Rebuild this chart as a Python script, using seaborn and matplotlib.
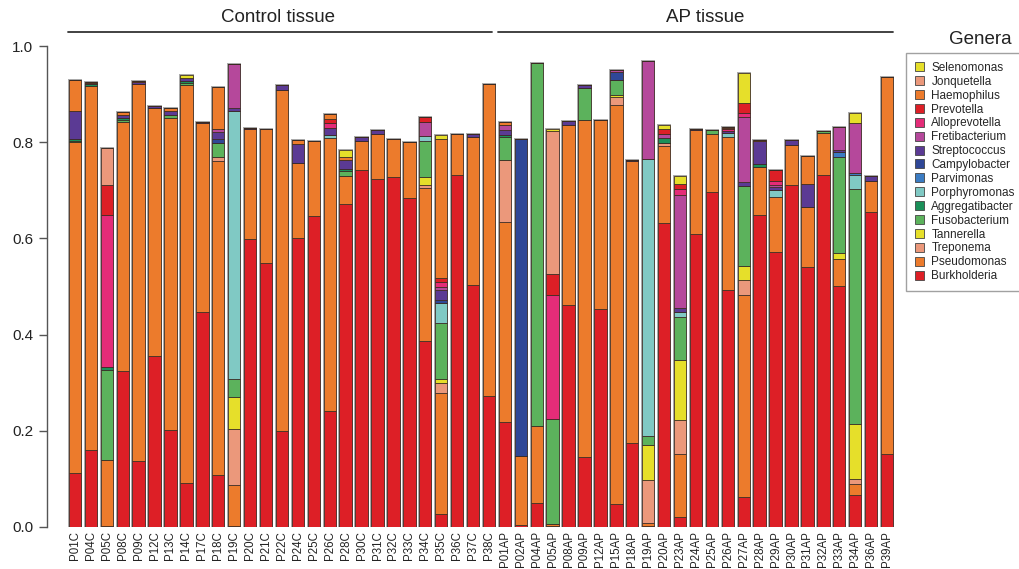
import numpy as np
import pandas as pd
import matplotlib
matplotlib.use("Agg")
import matplotlib.pyplot as plt
from matplotlib.patches import Patch
from matplotlib.ticker import FormatStrFormatter
from matplotlib.transforms import blended_transform_factory
import seaborn as sns

# ---------------------------------------------------------------- samples
control_samples = ["P01C", "P04C", "P05C", "P08C", "P09C", "P12C", "P13C", "P14C",
                   "P17C", "P18C", "P19C", "P20C", "P21C", "P22C", "P24C", "P25C",
                   "P26C", "P28C", "P30C", "P31C", "P32C", "P33C", "P34C", "P35C",
                   "P36C", "P37C", "P38C"]
ap_samples = ["P01AP", "P02AP", "P04AP", "P05AP", "P08AP", "P09AP", "P12AP", "P15AP",
              "P18AP", "P19AP", "P20AP", "P23AP", "P24AP", "P25AP", "P26AP", "P27AP",
              "P28AP", "P29AP", "P30AP", "P31AP", "P32AP", "P33AP", "P34AP", "P36AP",
              "P39AP"]
samples = control_samples + ap_samples

# ------------------------------------------- relative abundance per genus
# (27 control samples, then 25 AP samples)
burkholderia = [.113, .160, .003, .325, .137, .355, .202, .092, .446, .108, .002, .599, .549, .200,
                .601, .647, .242, .671, .743, .723, .728, .684, .387, .027, .732, .504, .272] + \
               [.218, .005, .049, .002, .461, .146, .454, .047, .175, .002, .633, .020, .609,
                .697, .492, .063, .648, .571, .712, .540, .731, .502, .066, .655, .151]
pseudomonas = [.687, .757, .136, .517, .785, .516, .648, .826, .394, .652, .085, .228, .278, .708,
               .156, .156, .566, .059, .060, .095, .078, .117, .317, .252, .086, .307, .648] + \
              [.417, .142, .162, .005, .375, .700, .393, .830, .585, .007, .159, .132, .216,
               .121, .318, .419, .100, .116, .083, .126, .089, .055, .024, .064, .785]
treponema = [0, 0, 0, 0, 0, 0, 0, 0, 0, .009, .117, 0, 0, 0,
             0, 0, 0, 0, 0, 0, 0, 0, .007, .021, 0, 0, 0] + \
            [.128, 0, 0, 0, 0, 0, 0, .017, 0, .089, .006, .070, 0,
             0, 0, .032, 0, 0, 0, 0, 0, 0, .009, 0, 0]
tannerella = [0, 0, 0, 0, 0, 0, 0, 0, 0, 0, .066, 0, 0, 0,
              0, 0, 0, 0, 0, 0, 0, 0, .016, .007, 0, 0, 0] + \
             [0, 0, 0, 0, 0, 0, 0, .004, 0, .072, 0, .125, 0,
              0, 0, .029, 0, 0, 0, 0, 0, .013, .115, 0, 0]
fusobacterium = [.003, 0, .188, .004, 0, 0, .007, .006, 0, .030, .038, 0, 0, 0,
                 0, 0, 0, .010, 0, 0, 0, 0, .075, .118, 0, 0, 0] + \
                [.047, 0, .753, .217, 0, .066, 0, .031, 0, .019, 0, .090, 0,
                 .007, 0, .166, 0, 0, 0, 0, .004, .200, .488, 0, 0]
aggregatibacter = [.003, .004, .006, .004, 0, 0, 0, .003, 0, 0, 0, 0, 0, 0,
                   0, 0, 0, .005, 0, 0, 0, 0, 0, 0, 0, 0, 0] + \
                  [.004, 0, 0, 0, 0, 0, 0, 0, 0, 0, .010, 0, 0,
                   0, 0, 0, .007, 0, 0, 0, 0, 0, 0, 0, 0]
porphyromonas = [0, 0, 0, 0, 0, 0, 0, 0, 0, 0, .556, 0, 0, 0,
                 0, 0, .006, 0, 0, 0, 0, 0, .010, .040, 0, 0, 0] + \
                [0, 0, 0, 0, 0, 0, 0, 0, 0, .576, 0, .011, 0,
                 0, .010, 0, 0, .013, 0, 0, 0, 0, .029, 0, 0]
parvimonas = [0, 0, 0, 0, 0, 0, 0, 0, 0, 0, 0, 0, 0, 0,
              0, 0, 0, 0, 0, 0, 0, 0, 0, 0, 0, 0, 0] + \
             [0, 0, 0, 0, 0, 0, 0, 0, 0, 0, 0, 0, 0,
              0, 0, 0, 0, 0, 0, 0, 0, .010, .006, 0, 0]
campylobacter = [0, 0, 0, 0, 0, 0, 0, 0, 0, .007, 0, 0, 0, 0,
                 0, 0, 0, 0, 0, 0, 0, 0, 0, .006, 0, 0, 0] + \
                [0, .660, 0, 0, 0, 0, 0, .016, 0, 0, 0, 0, 0,
                 0, 0, 0, 0, 0, 0, 0, 0, 0, 0, 0, 0]
streptococcus = [.058, .003, 0, .006, .003, .004, .007, .006, .003, .015, .007, .003, 0, .010,
                 .039, 0, .015, .018, .007, .007, 0, 0, 0, .021, 0, .007, 0] + \
                [.011, 0, 0, 0, .008, .006, 0, 0, .003, 0, 0, .007, .002,
                 0, .003, .009, .047, .006, .010, .048, 0, .003, 0, .011, 0]
fretibacterium = [0, 0, 0, 0, 0, 0, 0, 0, 0, .006, .092, 0, 0, 0,
                  0, 0, 0, 0, 0, 0, 0, 0, .031, .006, 0, 0, 0] + \
                 [.011, 0, 0, 0, 0, 0, 0, .006, 0, .204, .010, .235, 0,
                  0, 0, .134, 0, .005, 0, 0, 0, .048, .103, 0, 0]
alloprevotella = [0, 0, .316, 0, 0, 0, 0, 0, 0, 0, 0, 0, 0, 0,
                  0, 0, .011, 0, 0, 0, 0, 0, 0, .011, 0, 0, 0] + \
                 [0, 0, 0, .258, 0, 0, 0, 0, 0, 0, 0, .012, 0,
                  0, .004, .008, 0, .009, 0, 0, 0, 0, 0, 0, 0]
prevotella = [0, 0, .061, 0, 0, 0, 0, 0, 0, 0, 0, 0, 0, 0,
              0, 0, .008, 0, 0, 0, 0, 0, .010, .009, 0, 0, 0] + \
             [0, 0, 0, .045, 0, 0, 0, 0, 0, 0, .009, .011, 0,
              0, .002, .021, 0, .023, 0, 0, 0, 0, 0, 0, 0]
haemophilus = [.066, .002, 0, .006, .003, 0, .008, 0, 0, .088, 0, 0, 0, 0,
               .009, 0, .011, .007, 0, 0, 0, 0, 0, .288, 0, 0, 0] + \
              [.005, 0, 0, 0, 0, 0, 0, 0, 0, 0, 0, 0, 0,
               0, .002, 0, .003, 0, 0, .058, 0, 0, 0, 0, 0]
jonquetella = [0, 0, .077, 0, 0, 0, 0, 0, 0, 0, 0, 0, 0, 0,
               0, 0, 0, 0, 0, 0, 0, 0, 0, 0, 0, 0, 0] + \
              [0, 0, 0, .297, 0, 0, 0, 0, 0, 0, 0, 0, 0,
               0, 0, 0, 0, 0, 0, 0, 0, 0, 0, 0, 0]
selenomonas = [0, 0, 0, 0, 0, 0, 0, .007, 0, 0, 0, 0, 0, 0,
               0, 0, 0, .014, 0, 0, 0, 0, 0, .009, 0, 0, 0] + \
              [0, 0, 0, .003, 0, 0, 0, 0, 0, 0, .009, .017, 0,
               0, 0, .062, 0, 0, 0, 0, 0, 0, .021, 0, 0]

# stacking order, bottom to top
genera = ["Burkholderia", "Pseudomonas", "Treponema", "Tannerella", "Fusobacterium",
          "Aggregatibacter", "Porphyromonas", "Parvimonas", "Campylobacter",
          "Streptococcus", "Fretibacterium", "Alloprevotella", "Prevotella",
          "Haemophilus", "Jonquetella", "Selenomonas"]
series = [burkholderia, pseudomonas, treponema, tannerella, fusobacterium,
          aggregatibacter, porphyromonas, parvimonas, campylobacter,
          streptococcus, fretibacterium, alloprevotella, prevotella,
          haemophilus, jonquetella, selenomonas]
colors = ["#dd1f26", "#ec7b2c", "#eb987b", "#e6df2a", "#5cb25c",
          "#1b9059", "#80c9c4", "#3b7cc3", "#2f4797",
          "#5b3a94", "#b5489b", "#e42c78", "#dd1f26",
          "#ec7b2c", "#eb987b", "#e6df2a"]

# ---------------------------------------------------------------- figure
sns.set_theme(style="white")
plt.rcParams["font.family"] = ["Liberation Sans", "DejaVu Sans"]

W, H = 1019, 569
fig = plt.figure(figsize=(W / 100, H / 100), dpi=100)
ax = fig.add_axes([67 / W, 42 / H, 828 / W, 481 / H])

bar_w = 0.78
totals = np.sum(np.array(series), axis=0)

# soft grey outline around every full bar
sns.barplot(x=samples, y=totals, order=samples, color="white", edgecolor="#a8a8a8",
            linewidth=1.4, width=bar_w, saturation=1, errorbar=None, ax=ax)

bottom = np.zeros(len(samples))
for name, vals, col in zip(genera, series, colors):
    df = pd.DataFrame({"sample": samples, "value": vals})
    sns.barplot(data=df, x="sample", y="value", order=samples, bottom=bottom,
                color=col, edgecolor="#3a2a22", linewidth=0.55, width=bar_w,
                saturation=1, errorbar=None, ax=ax)
    bottom = bottom + np.array(vals)

ax.set_xlim(-0.5, len(samples) - 0.5)
ax.set_ylim(0, 1.0)
ax.set_xlabel("")
ax.set_ylabel("")
ax.set_yticks(np.arange(0, 1.01, 0.2))
ax.yaxis.set_major_formatter(FormatStrFormatter("%.1f"))
ax.tick_params(axis="y", left=True, length=6, width=1, color="#555555",
               labelsize=11, pad=4, labelcolor="#222222")
ax.tick_params(axis="x", length=0, labelsize=8.3, pad=3, labelrotation=90,
               labelcolor="#222222")
for s in ("top", "right", "bottom"):
    ax.spines[s].set_visible(False)
ax.spines["left"].set_position(("outward", 14.4))
ax.spines["left"].set_bounds(0, 1.0)
ax.spines["left"].set_color("#555555")
ax.spines["left"].set_linewidth(1)

# tissue group brackets above the bars
tr = blended_transform_factory(ax.transData, fig.transFigure)
y_line = 1 - 32 / H
ax.plot([-0.44, 26.2], [y_line, y_line], color="#333333", lw=1.3,
        transform=tr, clip_on=False)
ax.plot([26.57, 51.38], [y_line, y_line], color="#333333", lw=1.3,
        transform=tr, clip_on=False)
ax.text(12.75, 1 - 17 / H, "Control tissue", transform=tr, ha="center", va="center",
        fontsize=13.5, color="#222222")
ax.text(39.6, 1 - 17 / H, "AP tissue", transform=tr, ha="center", va="center",
        fontsize=13.5, color="#222222")

# legend, top of the stack first
handles = [Patch(facecolor=c, edgecolor="#444444", linewidth=0.6, label=g)
           for g, c in zip(genera[::-1], colors[::-1])]
leg = fig.legend(handles=handles, loc="upper left",
                 bbox_to_anchor=(906 / W, 1 - 53 / H), borderaxespad=0,
                 fontsize=8.5, frameon=True, fancybox=False, edgecolor="#8a8a8a",
                 handlelength=0.8, handleheight=0.8, handletextpad=0.6,
                 labelspacing=0.16, borderpad=0.75)
leg.get_frame().set_linewidth(1.0)
fig.text(980 / W, 1 - 40 / H, "Genera", ha="center", va="center",
         fontsize=13.5, color="#222222")

fig.savefig("out.png", dpi=100)
